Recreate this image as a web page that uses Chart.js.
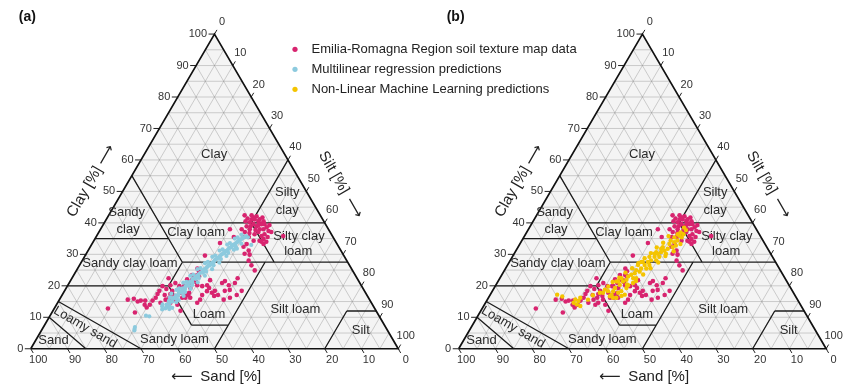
<!DOCTYPE html>
<html>
<head>
<meta charset="utf-8">
<script src="https://cdn.jsdelivr.net/npm/chart.js@4.4.1/dist/chart.umd.min.js"></script>
<style>
  body { margin: 0; background: #fff; }
  #box { position: relative; width: 847px; height: 389px; }
</style>
</head>
<body>
<div id="box"><canvas id="soil"></canvas></div>
<script>
// tick labels on the three axes (%)
const tickValues = [0, 10, 20, 30, 40, 50, 60, 70, 80, 90, 100];

// USDA texture class names, one entry per printed line
const classLabels = ['Clay', 'Silty', 'clay', 'Sandy', 'clay', 'Clay loam', 'Silty clay', 'loam',
  'Sandy clay loam', 'Loam', 'Silt loam', 'Silt', 'Sandy loam', 'Sand', 'Loamy sand'];

// class boundaries, end points as [sand %, clay %] (silt = rest)
const classBoundaries = [
  [[45, 40], [0, 40]],
  [[20, 40], [0, 60]],
  [[45, 55], [45, 27.5]],
  [[65, 35], [45, 35]],
  [[45, 27.5], [0, 27.5]],
  [[20, 40], [20, 27.5]],
  [[45, 27.5], [52.5, 20]],
  [[80, 20], [52.5, 20]],
  [[52.5, 20], [52.5, 7.5]],
  [[52.5, 7.5], [42.5, 7.5]],
  [[50, 0], [22.5, 27.5]],
  [[20, 0], [8, 12]],
  [[8, 12], [0, 12]],
  [[85, 15], [70, 0]],
  [[90, 10], [85, 0]]
];

// Emilia-Romagna soil texture map data, [sand %, clay %]
const observed = [
  [26.8,38.0],[27.0,35.5],[23.6,38.0],[23.2,37.1],[21.8,38.9],[20.3,40.2],[21.4,38.0],[19.3,41.1],[19.6,39.6],[18.5,41.1],
  [19.1,38.9],[17.8,40.5],[17.2,41.1],[17.4,39.6],[16.4,40.5],[16.6,39.6],[16.5,38.6],[16.6,37.4],[18.7,38.0],[19.5,37.1],
  [20.9,36.4],[19.3,35.8],[18.2,36.4],[19.2,34.9],[18.9,34.0],[20.6,34.3],[13.4,35.8],[22.9,35.5],[24.6,33.3],[25.9,32.4],
  [25.1,31.2],[18.5,41.7],[17.5,42.1],[18.7,42.4],[16.1,41.7],[20.3,41.4],[21.3,40.5],[20.7,38.9],[20.0,37.7],[15.4,39.3],
  [17.7,38.0],[16.0,37.1],[17.8,35.5],[20.6,42.4],[18.4,39.3],[22.1,36.8],[20.0,33.3],[20.2,34.0],[31.7,33.6],[37.8,29.6],
  [26.7,26.5],[26.6,24.9],[25.5,29.9],[22.2,34.3],[24.3,35.5],[41.9,24.6],[43.0,23.4],[44.4,21.8],[46.4,20.9],[48.0,19.9],
  [44.6,20.2],[43.4,19.9],[41.9,20.2],[41.8,19.3],[41.8,17.8],[41.7,16.8],[44.8,17.1],[46.1,15.6],[47.4,14.6],[40.7,18.4],
  [37.5,20.9],[36.4,21.5],[39.7,15.6],[38.0,18.4],[36.5,18.7],[34.0,20.9],[35.4,17.1],[33.4,18.4],[40.3,21.8],[48.0,17.8],
  [48.5,16.2],[32.5,22.4],[37.7,16.2],[40.5,17.1],[36.0,20.2],[72.6,12.8],[65.8,15.6],[64.0,15.9],[65.9,11.5],[62.4,15.3],
  [62.0,14.0],[61.9,13.1],[60.6,14.0],[59.2,15.3],[57.9,16.2],[55.8,18.4],[57.4,14.6],[55.0,17.1],[55.5,15.6],[55.8,14.0],
  [54.2,16.2],[53.3,17.4],[52.3,18.4],[52.5,16.8],[52.9,15.6],[54.7,14.6],[49.6,19.9],[50.4,17.8],[50.7,16.2],[53.1,14.0],
  [53.2,12.1],[48.3,19.9],[49.4,17.1],[46.9,19.3],[45.2,21.8],[44.4,21.2],[42.7,23.1],[54.2,19.9],[53.6,19.0],[48.6,17.1],
  [51.9,20.2],[51.3,22.4],[50.2,20.9],[46.4,22.1],[56.8,17.4],[63.4,15.0],[26.7,30.2],[26.7,28.0],[44.4,23.4],[61.2,15.3],
  [49.8,16.2],[42.9,18.3],[41.9,25.5]
];

// multilinear regression predictions, [sand %, clay %]
const mlrPredicted = [
  [58,12.5],[57.5,13.5],[57,12.8],[56.5,13.2],[56,14],[55.5,13.5],[55,14.5],[54.8,15.2],[54,15],[53.5,15.8],
  [53,16.2],[52.5,16],[52,17],[51.5,16.8],[51,17.5],[50.5,18.2],[50,17.8],[49.5,18.5],[49,19.2],[48.5,19],
  [48,19.8],[47.5,20.2],[47,20],[46.5,21],[46,21.3],[45.5,21],[45,22],[44.5,22.4],[44,22.2],[43.5,23],
  [43,23.3],[42.5,23.6],[42,24],[41.5,24.3],[41,24.2],[40.5,25],[40,25.3],[39.5,25.6],[39,26],[38.5,26.4],
  [38,26.5],[37.5,27],[37,27.3],[36.5,27.5],[36,28],[35.5,28.4],[35,28.6],[34.5,29],[34,29.2],[33.5,29.7],
  [33,30],[32.5,30.3],[32,30.6],[31.5,31],[31,31.2],[30.5,31.6],[30,32],[29.5,32.2],[29,32.6],[28.5,33],
  [28,33.2],[27.5,33.5],[27,33.8],[26.5,34.2],[26,34.4],[25.5,34.7],[25,35],[24.5,35.3],[24,35.5],[23.5,35.8],
  [55,13],[52,15.5],[49,18],[46,20.2],[43,22.5],[40,24.5],[37,26.5],[34,28.5],[31,30.5],[28,32.5],
  [53,17.5],[50,19.2],[47,21.3],[44,23.6],[41,25.6],[38,27.6],[35,29.6],[32,31.6],[29,33.6],[26,35.4],
  [23.2,35.4],[23.5,33],[28,31.8],[57.1,14.1],[63.4,10.5],[62.6,10.3],[68.6,6.3],[68.9,5.8],[68.2,6.9],
  [54,16.3],[51,18.7],[48,21],[45,23.2],[42,25.3],[39,27.2],[36,29.2],[33,31.2],[30,33.1],[27,35],[24.5,36.3],
  [56,12.6],[53,14.8],[50,16.8],[47,19],[44,21.1],[41,23.2],[38,25.3],[35,27.4],[32,29.5],[29,31.5],[26,33.4]
];

// non-linear machine learning predictions, [sand %, clay %]
const mlPredicted = [
  [19.3,37.7],[20.6,36.4],[21.6,35.4],[22.0,35.9],[23.3,34.4],[24.4,33.9],[24.5,32.8],[25.6,32.3],[26.0,33.3],[27.2,31.8],
  [28.4,31.2],[28.5,30.2],[29.6,30.7],[30.7,30.2],[30.8,29.2],[32.1,29.2],[32.2,28.1],[33.6,28.1],[34.7,27.6],[34.8,26.6],
  [36.1,26.6],[36.2,25.5],[37.6,25.5],[38.5,24.5],[39.2,25.0],[40.1,24.0],[41.3,23.5],[41.3,22.4],[42.4,23.0],[43.4,21.9],
  [44.6,21.4],[44.5,22.4],[45.9,21.4],[37.9,26.6],[36.1,27.6],[33.5,29.2],[31.6,30.2],[28.3,32.3],[25.1,34.4],[23.6,35.4],
  [21.1,37.0],[19.4,38.5],[64.6,17.2],[60.4,15.7],[60.8,14.1],[59.8,15.2],[61.4,14.6],[58.8,16.2],[60.1,13.6],[51.8,17.8],
  [50.8,18.8],[49.4,19.8],[49.8,17.2],[48.8,18.3],[47.8,19.3],[47.7,17.8],[46.0,20.3],[46.6,18.3],[46.2,17.2],[50.5,16.7],
  [46.4,21.4],[50.2,18.3],[49.9,16.2],[52.7,17.8],[44.7,19.3],[36.5,27.6],[30.9,30.7],[29.0,31.8],[22.2,36.4],[49.0,16.2],
  [47.3,16.8],[43.8,20.2],[42.1,20.9],[40.5,22.4],
  [25,35.8],[27.5,33.7],[30,32.2],[32.5,30.4],[35,28.8],[37.5,27.2],[40,25.6],[42.5,24.2],[45,22.6],[47.5,21.2],
  [23,33.3],[26,31.0],[29,29.5],[32,27.4],[35,25.6],[38,23.6],[41,21.5],[44,20.4],[57,15.6],[55,17],[63.5,16.6]
];

const legendLabels = ['Emilia-Romagna Region soil texture map data', 'Multilinear regression predictions',
  'Non-Linear Machine Learning predictions'];
const colors = ['#d8246f', '#8ccade', '#f4c400'];

// layout: label anchors inside the triangle (side = 100 units)
const labelPos = [[49.9,53.6],[69.8,42.9],[69.8,38.0],[26.1,37.5],[26.5,32.9],[45.0,32.1],[73.0,31.0],[72.8,26.7],
  [27.0,23.5],[48.5,9.4],[72.0,10.8],[89.8,5.1],[39.1,2.7],[6.2,2.2],[14.8,5.9]];

const H = Math.sqrt(3) / 2;
const PX = 3.71;                       // pixels per unit
const origins = [27 / PX, 459 / PX];   // bottom-left corner of each triangle
const FONT = '"Liberation Sans", Arial, sans-serif';

function cart(sand, clay, ox) {
  const silt = 100 - sand - clay;
  return { x: ox + silt + clay / 2, y: clay * H };
}

function withGaps(segs) {
  const out = [];
  segs.forEach(([p, q]) => out.push(p, q, { x: q.x, y: null }));
  return out;
}

const gridSegs = [], boundSegs = [], tickSegs = [], frameData = [];
origins.forEach(ox => {
  for (let k = 5; k < 100; k += 5) {
    gridSegs.push([cart(100 - k, k, ox), cart(0, k, ox)]);
    gridSegs.push([cart(k, 100 - k, ox), cart(k, 0, ox)]);
    gridSegs.push([cart(100 - k, 0, ox), cart(0, 100 - k, ox)]);
  }
  classBoundaries.forEach(([a, b]) => boundSegs.push([cart(a[0], a[1], ox), cart(b[0], b[1], ox)]));
  tickValues.forEach(k => {
    const c = cart(100 - k, k, ox);
    tickSegs.push([c, { x: c.x - 6 / PX, y: c.y }]);
    const t = cart(0, 100 - k, ox);
    tickSegs.push([t, { x: t.x + 2.5 / PX, y: t.y + 4.3 / PX }]);
    const s = cart(k, 0, ox);
    tickSegs.push([s, { x: s.x + 2.5 / PX, y: s.y - 4.3 / PX }]);
  });
  frameData.push(cart(100, 0, ox), cart(0, 0, ox), cart(0, 100, ox), cart(100, 0, ox), { x: ox, y: null });
});

function lineSet(data, color, width, order) {
  return { data, showLine: true, borderColor: color, borderWidth: width, pointRadius: 0,
    fill: false, tension: 0, order, borderJoinStyle: 'miter' };
}

function pointSet(list, ox, color, radius, order) {
  return { data: list.map(p => cart(p[0], p[1], ox)), backgroundColor: color, borderWidth: 0,
    pointRadius: radius, order };
}

function text(ctx, str, px, py, opts) {
  ctx.save();
  ctx.translate(px, py);
  if (opts.rot) ctx.rotate(opts.rot * Math.PI / 180);
  ctx.font = opts.font;
  ctx.fillStyle = opts.color || '#222';
  ctx.textAlign = opts.align || 'center';
  ctx.textBaseline = 'middle';
  ctx.fillText(str, 0, 0);
  ctx.restore();
}

const ternaryText = {
  id: 'ternaryText',
  beforeDatasetsDraw(chart) {
    const { ctx, scales: { x, y } } = chart;
    ctx.save();
    ctx.fillStyle = '#f4f4f4';
    origins.forEach(ox => {
      ctx.beginPath();
      [cart(100, 0, ox), cart(0, 0, ox), cart(0, 100, ox)].forEach((p, i) => {
        const px = x.getPixelForValue(p.x), py = y.getPixelForValue(p.y);
        if (i) ctx.lineTo(px, py); else ctx.moveTo(px, py);
      });
      ctx.closePath();
      ctx.fill();
    });
    ctx.restore();
  },
  afterDatasetDraw(chart, args) {
    if (!chart.data.datasets[args.index].labelsAfter) return;
    const { ctx, scales: { x, y } } = chart;
    origins.forEach(ox => {
      // class names
      classLabels.forEach((name, i) => {
        const [dx, dy] = labelPos[i];
        text(ctx, name, x.getPixelForValue(ox + dx), y.getPixelForValue(dy),
          { font: '13px ' + FONT, color: '#2a2a2a', rot: name === 'Loamy sand' ? 30 : 0 });
      });
      // tick labels
      const tf = { font: '11px ' + FONT, color: '#333' };
      tickValues.forEach(k => {
        const c = cart(100 - k, k, ox);
        text(ctx, String(k), x.getPixelForValue(c.x) - 7.5, y.getPixelForValue(c.y), Object.assign({ align: 'right' }, tf));
        const t = cart(0, 100 - k, ox);
        text(ctx, String(k), x.getPixelForValue(t.x) + 7.5, y.getPixelForValue(t.y) - 12.5, tf);
        const s = cart(k, 0, ox);
        text(ctx, String(k), x.getPixelForValue(s.x) + 7.5, y.getPixelForValue(s.y) + 11.5, tf);
      });
      // axis titles
      const x0 = x.getPixelForValue(ox), y0 = y.getPixelForValue(0);
      const af = { font: '15px ' + FONT, color: '#222' };
      const arrowFont = '15px "DejaVu Sans", sans-serif';
      text(ctx, 'Clay [%]', x0 + 54, y0 - 157, Object.assign({ rot: -60 }, af));
      text(ctx, '\u27F6', x0 + 75.5, y0 - 193.5, { font: arrowFont, rot: -60 });
      text(ctx, 'Silt [%]', x0 + 303, y0 - 176, Object.assign({ rot: 60 }, af));
      text(ctx, '\u27F6', x0 + 323, y0 - 141, { font: arrowFont, rot: 60 });
      text(ctx, '\u27F5', x0 + 151, y0 + 28, { font: arrowFont });
      text(ctx, 'Sand [%]', x0 + 200, y0 + 28, af);
    });
  },
  afterDraw(chart) {
    const { ctx, scales: { x, y } } = chart;
    ['(a)', '(b)'].forEach((s, i) => {
      text(ctx, s, x.getPixelForValue(origins[i]) - 12, y.getPixelForValue(0) - 332,
        { font: 'bold 14px ' + FONT, color: '#111', align: 'left' });
    });
    legendLabels.forEach((lab, i) => {
      const ly = 49.3 + i * 20;
      ctx.save();
      ctx.fillStyle = colors[i];
      ctx.beginPath();
      ctx.arc(295, ly, 2.6, 0, Math.PI * 2);
      ctx.fill();
      ctx.restore();
      text(ctx, lab, 311.5, ly, { font: '13px ' + FONT, color: '#222', align: 'left' });
    });
  }
};

new Chart(document.getElementById('soil'), {
  type: 'scatter',
  data: {
    datasets: [
      lineSet(withGaps(gridSegs), 'rgba(135,135,135,0.55)', 0.7, 6),
      lineSet(withGaps(boundSegs), '#1c1c1c', 1.3, 5),
      lineSet(withGaps(tickSegs), '#222', 1, 4),
      Object.assign(lineSet(frameData, '#111', 1.7, 3), { labelsAfter: true }),
      pointSet(observed, origins[0], colors[0], 2.3, 2),
      pointSet(mlrPredicted, origins[0], colors[1], 2.1, 1),
      pointSet(observed, origins[1], colors[0], 2.3, 2),
      pointSet(mlPredicted, origins[1], colors[2], 2.2, 1)
    ]
  },
  options: {
    responsive: true,
    maintainAspectRatio: false,
    animation: false,
    events: [],
    layout: { padding: 0 },
    plugins: { legend: { display: false }, tooltip: { enabled: false } },
    scales: {
      x: { type: 'linear', display: false, min: 0, max: 847 / PX },
      y: { type: 'linear', display: false, min: -(389 - 352) / PX, max: 352 / PX }
    }
  },
  plugins: [ternaryText]
});
</script>
</body>
</html>
